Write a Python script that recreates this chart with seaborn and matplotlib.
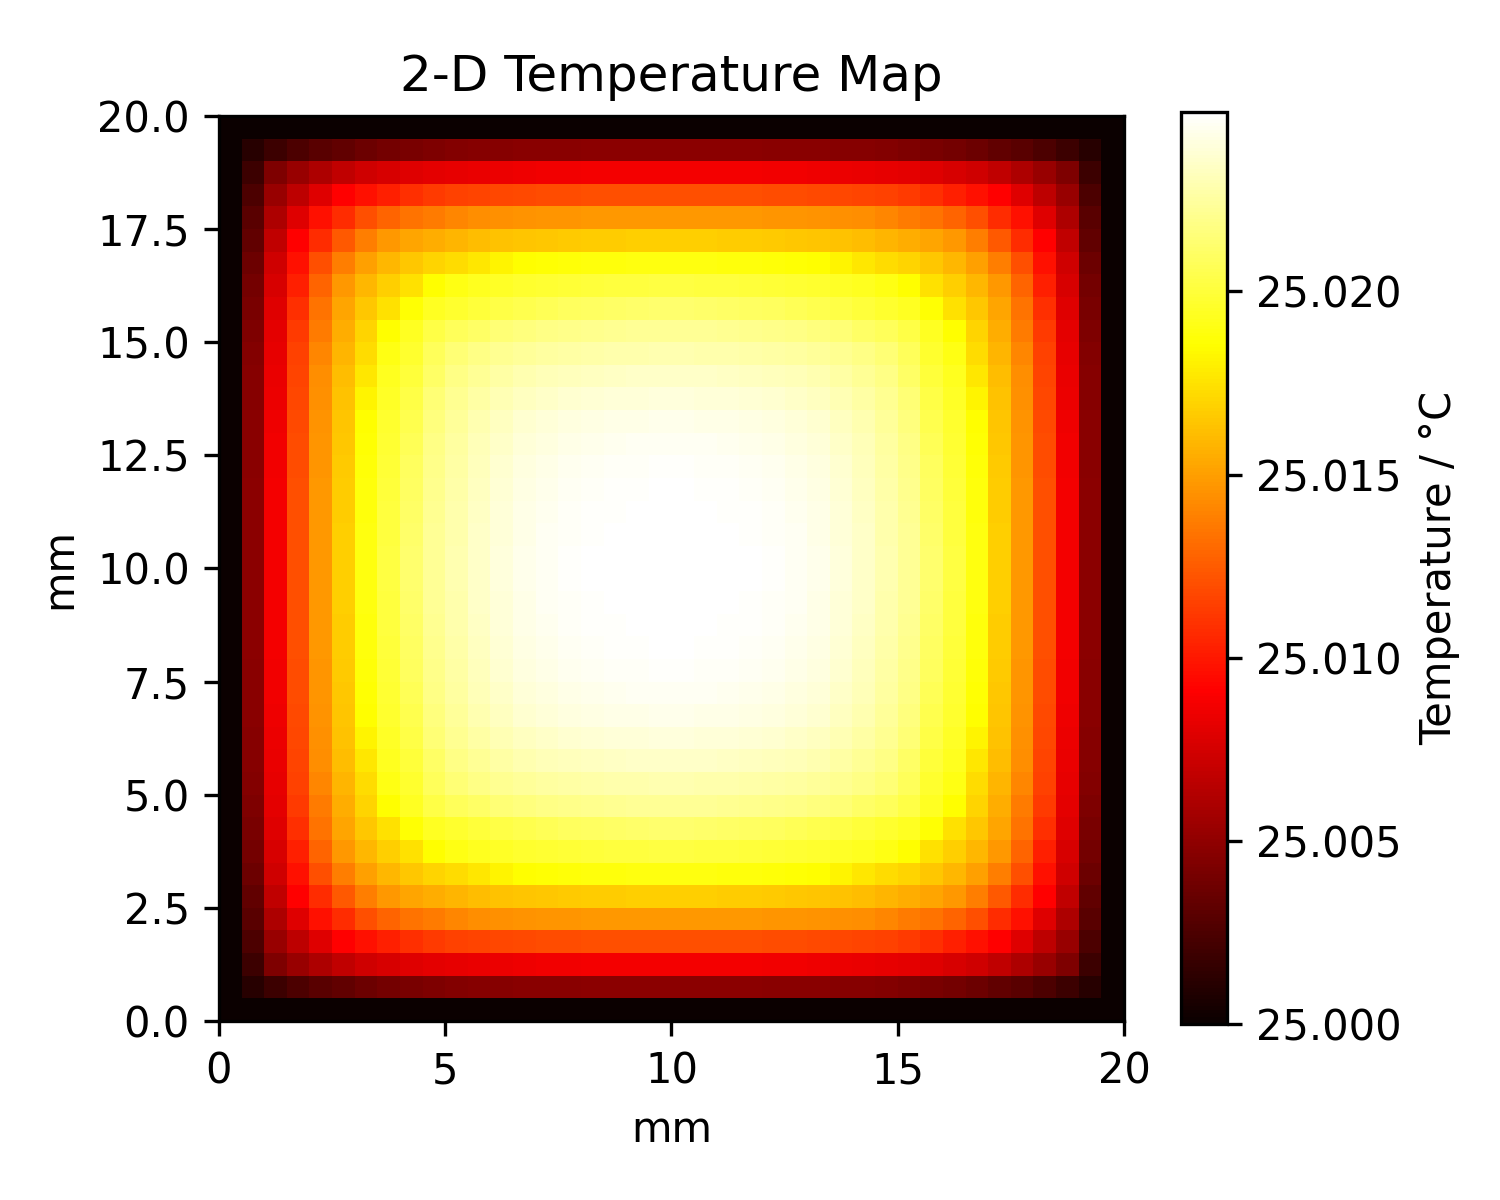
import numpy as np
import pandas as pd
import matplotlib
matplotlib.use("Agg")
import matplotlib.pyplot as plt
import seaborn as sns

# boundary temperature (degC) and plate side length (mm)
base_temp = 25.0
side_mm = 20.0

# top-left quarter of the 40x40 map, temperature rise above 25 degC in units of 1e-4 degC
# (the map is mirrored left/right and top/bottom)
quad_rise = [
    [0, 0, 0, 0, 0, 0, 0, 0, 0, 0, 0, 0, 0, 0, 0, 0, 0, 0, 0, 0],
    [0, 11, 19, 25, 30, 33, 36, 39, 41, 43, 45, 46, 46, 47, 47, 47, 48, 48, 48, 48],
    [0, 19, 43, 53, 61, 68, 73, 76, 79, 81, 82, 83, 84, 85, 86, 86, 87, 87, 87, 87],
    [0, 25, 53, 67, 79, 91, 97, 103, 108, 112, 115, 116, 117, 118, 119, 119, 120, 120, 120, 120],
    [0, 30, 61, 79, 97, 107, 120, 128, 134, 137, 141, 143, 144, 145, 146, 146, 147, 147, 147, 147],
    [0, 33, 68, 91, 107, 124, 138, 147, 152, 155, 158, 161, 163, 164, 165, 166, 167, 167, 168, 168],
    [0, 36, 73, 97, 120, 138, 150, 159, 165, 170, 173, 177, 181, 185, 186, 187, 188, 188, 189, 189],
    [0, 39, 76, 103, 128, 147, 159, 168, 175, 185, 190, 193, 195, 197, 198, 199, 200, 201, 201, 202],
    [0, 41, 79, 108, 134, 152, 165, 175, 186, 194, 197, 200, 203, 205, 207, 209, 210, 211, 212, 213],
    [0, 43, 81, 112, 137, 155, 170, 185, 194, 203, 208, 211, 214, 216, 218, 219, 220, 221, 222, 222],
    [0, 45, 82, 115, 141, 158, 173, 190, 197, 208, 214, 218, 221, 223, 225, 226, 227, 228, 228, 229],
    [0, 46, 83, 116, 143, 161, 177, 193, 200, 211, 218, 222, 226, 229, 231, 232, 233, 234, 235, 235],
    [0, 46, 84, 117, 144, 163, 181, 195, 203, 214, 221, 226, 230, 233, 235, 237, 238, 239, 239, 240],
    [0, 47, 85, 118, 145, 164, 185, 197, 205, 216, 223, 229, 233, 237, 239, 241, 242, 243, 243, 244],
    [0, 47, 86, 119, 146, 165, 186, 198, 207, 218, 225, 231, 235, 239, 241, 243, 244, 245, 246, 246],
    [0, 47, 86, 119, 146, 166, 187, 199, 209, 219, 226, 232, 237, 241, 243, 245, 246, 247, 247, 248],
    [0, 48, 87, 120, 147, 167, 188, 200, 210, 220, 227, 233, 238, 242, 244, 246, 247, 248, 248, 249],
    [0, 48, 87, 120, 147, 167, 188, 201, 211, 221, 228, 234, 239, 243, 245, 247, 248, 248, 249, 249],
    [0, 48, 87, 120, 147, 168, 189, 201, 212, 222, 228, 235, 239, 243, 246, 247, 248, 249, 249, 249],
    [0, 48, 87, 120, 147, 168, 189, 202, 213, 222, 229, 235, 240, 244, 246, 248, 249, 249, 249, 249],
]

x_ticks_mm = [0, 5, 10, 15, 20]
x_tick_labels = ["0", "5", "10", "15", "20"]
y_ticks_mm = [0, 2.5, 5, 7.5, 10, 12.5, 15, 17.5, 20]
y_tick_labels = ["0.0", "2.5", "5.0", "7.5", "10.0", "12.5", "15.0", "17.5", "20.0"]
cbar_ticks = [25.000, 25.005, 25.010, 25.015, 25.020]
cbar_tick_labels = ["25.000", "25.005", "25.010", "25.015", "25.020"]
t_min, t_max = 25.0, 25.0249

q = np.array(quad_rise, dtype=float)
full = np.block([[q, q[:, ::-1]], [q[::-1, :], q[::-1, ::-1]]])
temp = pd.DataFrame(base_temp + full * 1e-4)

fig = plt.figure(figsize=(5, 4), dpi=300)
ax = fig.add_axes([0.146, 0.1492, 0.6033, 0.7542])
cax = fig.add_axes([0.7873, 0.1467, 0.0307, 0.76])

sns.heatmap(temp, ax=ax, cbar_ax=cax, cmap="hot", vmin=t_min, vmax=t_max,
            xticklabels=False, yticklabels=False)

# heatmap rows run top to bottom, so y in mm is counted down from the top edge
cells_per_mm = temp.shape[0] / side_mm
ax.set_xticks(np.array(x_ticks_mm) * cells_per_mm, labels=x_tick_labels)
ax.set_yticks((side_mm - np.array(y_ticks_mm)) * cells_per_mm, labels=y_tick_labels, rotation=0)
ax.tick_params(length=3.5, width=0.8)
for s in ax.spines.values():
    s.set_visible(True)
    s.set_linewidth(0.8)
    s.set_color("black")

ax.set_title("2-D Temperature Map")
ax.set_xlabel("mm")
ax.set_ylabel("mm")

cbar = ax.collections[0].colorbar
cbar.outline.set_visible(True)
cbar.outline.set_linewidth(0.8)
cbar.outline.set_edgecolor("black")
cbar.set_ticks(cbar_ticks, labels=cbar_tick_labels)
cbar.ax.tick_params(length=3.5, width=0.8)
cbar.set_label("Temperature / °C")

fig.savefig("out.png", dpi=300)
